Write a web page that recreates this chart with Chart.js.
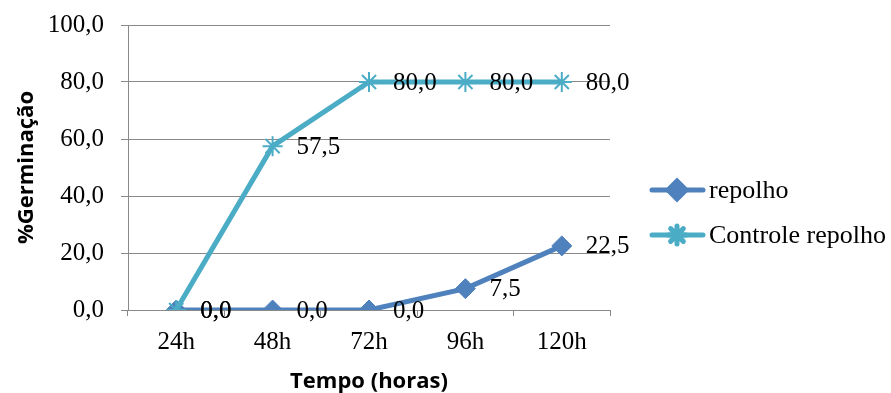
<!DOCTYPE html>
<html>
<head>
<meta charset="utf-8">
<script src="https://cdn.jsdelivr.net/npm/chart.js@4.4.0/dist/chart.umd.min.js"></script>
<style>
  html, body { margin: 0; padding: 0; background: #fff; }
  #wrap { width: 891px; height: 393px; position: relative; }
</style>
</head>
<body>
<div id="wrap"><canvas id="chart"></canvas></div>
<script>
const categories = ['24h', '48h', '72h', '96h', '120h'];
const repolho = [0, 0, 0, 7.5, 22.5];
const controle = [0, 57.5, 80, 80, 80];
const seriesNames = ['repolho', 'Controle repolho'];
const seriesColors = ['#4F81BD', '#4BACC6'];
const yMin = 0, yMax = 100, yStep = 20;

const serif = '"Liberation Serif", "Times New Roman", serif';
const fmt = v => v.toFixed(1).replace('.', ',');

// value labels to the right of each point
const pointLabels = {
  id: 'pointLabels',
  afterDatasetsDraw(chart) {
    const ctx = chart.ctx;
    ctx.save();
    ctx.font = '25px ' + serif;
    ctx.fillStyle = '#000';
    ctx.textAlign = 'left';
    ctx.textBaseline = 'middle';
    chart.data.datasets.forEach((ds, i) => {
      chart.getDatasetMeta(i).data.forEach((pt, j) => {
        ctx.fillText(fmt(ds.data[j]), pt.x + 24, pt.y + 1);
      });
    });
    ctx.restore();
  }
};

// legend on the right: line + marker + text
const sideLegend = {
  id: 'sideLegend',
  afterDraw(chart) {
    const ctx = chart.ctx;
    const rows = [190, 235];
    ctx.save();
    chart.data.datasets.forEach((ds, i) => {
      const y = rows[i];
      ctx.strokeStyle = ds.borderColor;
      ctx.lineWidth = ds.borderWidth;
      ctx.lineCap = 'round';
      ctx.beginPath();
      ctx.moveTo(652, y);
      ctx.lineTo(703, y);
      ctx.stroke();
      ctx.fillStyle = ds.pointBackgroundColor;
      ctx.strokeStyle = ds.pointBorderColor;
      Chart.helpers.drawPoint(ctx, {
        pointStyle: ds.pointStyle,
        radius: ds.pointRadius - 1,
        rotation: 0,
        borderWidth: ds.pointBorderWidth
      }, 677, y);
      ctx.fillStyle = '#000';
      ctx.font = '26px ' + serif;
      ctx.textAlign = 'left';
      ctx.textBaseline = 'middle';
      ctx.fillText(seriesNames[i], 709, y + 1);
    });
    ctx.restore();
  }
};

new Chart(document.getElementById('chart'), {
  type: 'line',
  data: {
    labels: categories,
    datasets: [{
      label: seriesNames[0],
      data: repolho,
      borderColor: seriesColors[0],
      borderWidth: 5,
      pointStyle: 'rectRot',
      pointRadius: 10,
      pointBackgroundColor: seriesColors[0],
      pointBorderColor: seriesColors[0],
      pointBorderWidth: 1,
      tension: 0,
      order: 1
    }, {
      label: seriesNames[1],
      data: controle,
      borderColor: seriesColors[1],
      borderWidth: 5,
      pointStyle: 'star',
      pointRadius: 10,
      pointBackgroundColor: seriesColors[1],
      pointBorderColor: seriesColors[1],
      pointBorderWidth: 2,
      tension: 0,
      order: 0
    }]
  },
  options: {
    responsive: true,
    maintainAspectRatio: false,
    animation: false,
    layout: { padding: { top: 25, right: 281, bottom: 0, left: 0 } },
    plugins: { legend: { display: false }, tooltip: { enabled: false } },
    scales: {
      x: {
        offset: true,
        grid: { offset: true, drawOnChartArea: false, drawTicks: true, tickLength: 6, color: '#898989' },
        border: { color: '#898989', width: 1 },
        ticks: { color: '#000', font: { family: serif, size: 25 }, padding: 11, maxRotation: 0 },
        title: {
          display: true, text: 'Tempo (horas)', color: '#000',
          font: { family: '"Open Sans", sans-serif', size: 22, weight: 'bold', lineHeight: 1 },
          padding: { top: 0, bottom: 0 }
        },
        afterFit(scale) { scale.height = 83; }
      },
      y: {
        min: yMin, max: yMax,
        grid: { color: '#898989', tickLength: 7 },
        border: { color: '#898989', width: 1 },
        ticks: {
          stepSize: yStep, color: '#000', padding: 17,
          font: { family: serif, size: 25 },
          callback: v => fmt(v)
        },
        title: {
          display: true, text: '%Germinação', color: '#000',
          font: { family: '"Open Sans", sans-serif', size: 22, weight: 'bold', lineHeight: 1 },
          padding: { top: 16, bottom: 0 }
        },
        afterFit(scale) {
          scale.width = 128;
          scale.paddingTop = 0;
          scale.paddingBottom = 0;
        }
      }
    }
  },
  plugins: [pointLabels, sideLegend]
});
</script>
</body>
</html>
